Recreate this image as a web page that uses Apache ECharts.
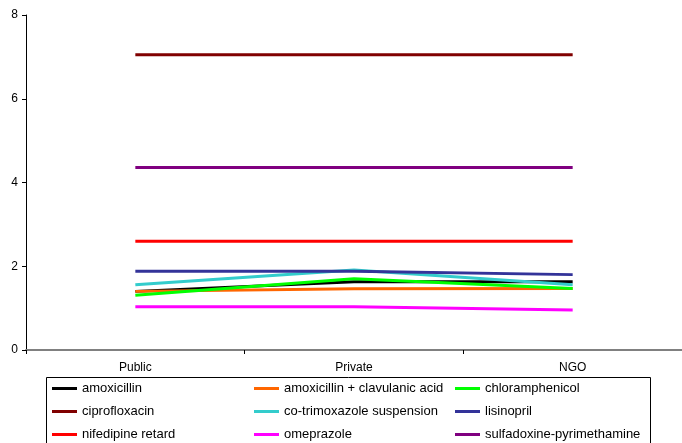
<!DOCTYPE html>
<html>
<head>
<meta charset="utf-8">
<script src="https://cdn.jsdelivr.net/npm/echarts@6/dist/echarts.min.js"></script>
<style>
  html, body { margin: 0; padding: 0; background: #fff; }
  #chart { width: 682px; height: 443px; }
</style>
</head>
<body>
<div id="chart"></div>
<script>
// Sector categories on the x axis
const sectors = ['Public', 'Private', 'NGO'];

// Median price ratio per medicine, by sector
const amoxicillin = [1.40, 1.63, 1.63];
const amoxClav = [1.40, 1.46, 1.47];
const chloramphenicol = [1.31, 1.70, 1.47];
const ciprofloxacin = [7.05, 7.05, 7.05];
const cotrimoxazole = [1.56, 1.91, 1.56];
const lisinopril = [1.88, 1.88, 1.80];
const nifedipine = [2.60, 2.60, 2.60];
const omeprazole = [1.03, 1.03, 0.955];
const sulfadoxine = [4.36, 4.36, 4.36];

// Y axis ticks
const yTicks = [0, 2, 4, 6, 8];

const seriesDefs = [
  { name: 'amoxicillin', data: amoxicillin, color: '#000000' },
  { name: 'amoxicillin + clavulanic acid', data: amoxClav, color: '#FF6600' },
  { name: 'chloramphenicol', data: chloramphenicol, color: '#00FF00' },
  { name: 'ciprofloxacin', data: ciprofloxacin, color: '#800000' },
  { name: 'co-trimoxazole suspension', data: cotrimoxazole, color: '#33CCCC' },
  { name: 'lisinopril', data: lisinopril, color: '#333399' },
  { name: 'nifedipine retard', data: nifedipine, color: '#FF0000' },
  { name: 'omeprazole', data: omeprazole, color: '#FF00FF' },
  { name: 'sulfadoxine-pyrimethamine', data: sulfadoxine, color: '#800080' }
];

const font = '"Liberation Sans", Arial, sans-serif';

// Legend laid out as a 3x3 table, one legend box per entry
const colLeft = [52, 254, 455];
const rowTop = [381, 404, 427];
const legends = seriesDefs.map((s, i) => ({
  orient: 'horizontal',
  left: colLeft[i % 3],
  top: rowTop[Math.floor(i / 3)],
  data: [s.name],
  icon: 'rect',
  itemWidth: 25,
  itemHeight: 3,
  padding: 0,
  selectedMode: false,
  textStyle: { fontFamily: font, fontSize: 13, color: '#000', lineHeight: 15 }
}));

const chart = echarts.init(document.getElementById('chart'), null, { renderer: 'canvas' });
chart.setOption({
  animation: false,
  backgroundColor: '#fff',
  grid: { left: 26, top: 15, width: 662, height: 335, containLabel: false },
  xAxis: {
    type: 'category',
    data: sectors,
    boundaryGap: true,
    axisLine: { lineStyle: { color: '#808080', width: 2 } },
    axisTick: { show: true, length: 4, lineStyle: { color: '#000', width: 1 } },
    axisLabel: { fontFamily: font, fontSize: 12, color: '#000', margin: 12 },
    splitLine: { show: false }
  },
  yAxis: {
    type: 'value',
    min: yTicks[0],
    max: yTicks[yTicks.length - 1],
    interval: yTicks[1] - yTicks[0],
    axisLine: { show: true, lineStyle: { color: '#000', width: 1 } },
    axisTick: { show: true, length: 4, lineStyle: { color: '#000' } },
    axisLabel: { fontFamily: font, fontSize: 12, color: '#000', margin: 8 },
    splitLine: { show: false }
  },
  legend: legends,
  graphic: [{
    type: 'rect',
    shape: { x: 46.5, y: 377.5, width: 604, height: 100 },
    style: { fill: 'none', stroke: '#000', lineWidth: 1 },
    z: 0
  }],
  series: seriesDefs.map(s => ({
    name: s.name,
    type: 'line',
    data: s.data,
    showSymbol: false,
    symbol: 'none',
    color: s.color,
    lineStyle: { color: s.color, width: 3 }
  }))
});
</script>
</body>
</html>
